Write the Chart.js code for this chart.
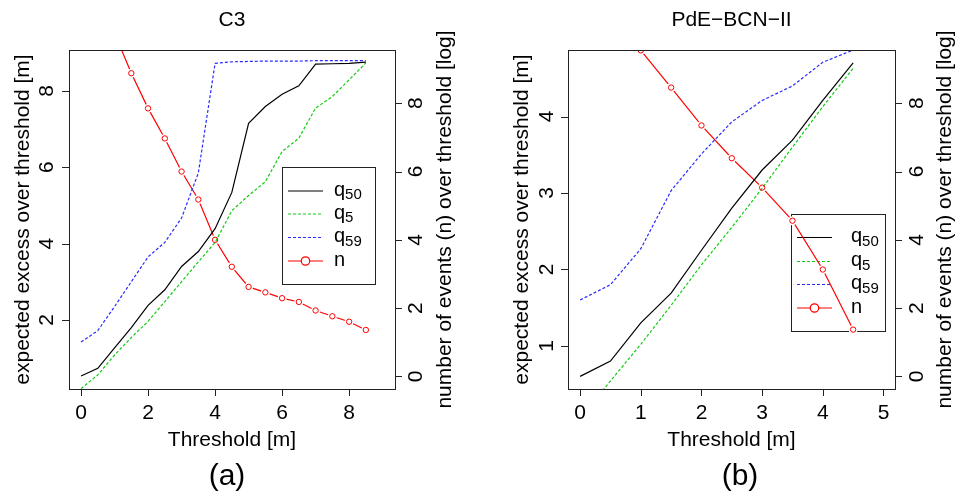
<!DOCTYPE html>
<html>
<head>
<meta charset="utf-8">
<script src="https://cdn.jsdelivr.net/npm/chart.js@4/dist/chart.umd.min.js"></script>
<style>
body { margin: 0; background: #fff; width: 955px; height: 495px; overflow: hidden; position: relative; }
canvas { position: absolute; top: 0; }
#chartA { left: 0; }
#chartB { left: 477px; }
</style>
</head>
<body>
<canvas id="chartA" width="477" height="495"></canvas>
<canvas id="chartB" width="478" height="495"></canvas>
<script>
// Panel (a) - C3
const thresholdsA = [0, 0.5, 1, 1.5, 2, 2.5, 3, 3.5, 4, 4.5, 5, 5.5, 6, 6.5, 7, 7.5, 8, 8.5];
const q50A = [0.53, 0.73, 1.27, 1.8, 2.38, 2.79, 3.4, 3.79, 4.39, 5.34, 7.15, 7.59, 7.91, 8.13, 8.7, 8.71, 8.72, 8.75];
const q5A  = [0.2, 0.56, 1.08, 1.54, 1.96, 2.48, 3.0, 3.52, 4.03, 4.86, 5.26, 5.62, 6.41, 6.76, 7.55, 7.85, 8.29, 8.73];
const q59A = [1.42, 1.72, 2.35, 3.0, 3.65, 4.03, 4.67, 5.85, 8.72, 8.76, 8.77, 8.78, 8.78, 8.78, 8.79, 8.79, 8.79, 8.79];
const nA   = [null, null, 10.05, 8.88, 7.85, 6.97, 6.0, 5.18, 4.0, 3.21, 2.62, 2.46, 2.29, 2.18, 1.93, 1.76, 1.6, 1.36];

// Panel (b) - PdE-BCN-II
const thresholdsB = [0, 0.5, 1, 1.5, 2, 2.5, 3, 3.5, 4, 4.5];
const q50B = [0.6, 0.8, 1.3, 1.69, 2.25, 2.8, 3.3, 3.69, 4.21, 4.7];
const q5B  = [0.06, 0.54, 1.02, 1.53, 2.06, 2.55, 3.06, 3.6, 4.13, 4.63];
const q59B = [1.6, 1.8, 2.27, 3.03, 3.51, 3.93, 4.21, 4.4, 4.71, 4.87];
const nB   = [null, null, 9.55, 8.46, 7.35, 6.39, 5.53, 4.56, 3.13, 1.37];

// axis ticks
const xTicksA = [0, 2, 4, 6, 8];
const yTicksA = [2, 4, 6, 8];
const xTicksB = [0, 1, 2, 3, 4, 5];
const yTicksB = [1, 2, 3, 4];
const nTicks = [0, 2, 4, 6, 8];

const FONT = '"Liberation Sans", Arial, Helvetica, sans-serif';
const GREEN = '#11cc11';
const BLUE = '#2a2aff';
const RED = '#ff0000';

const toPoints = (xs, ys) => xs.map((x, i) => ({ x: x, y: ys[i] }));

function vText(ctx, text, x, y) {
    ctx.save();
    ctx.translate(x, y);
    ctx.rotate(-Math.PI / 2);
    ctx.textAlign = 'center';
    ctx.textBaseline = 'middle';
    ctx.fillText(text, 0, 0);
    ctx.restore();
}

// R style box, axes, labels and legend
const rAxes = {
    id: 'rAxes',
    beforeDatasetsDraw(chart, args, o) {
        const ctx = chart.ctx;
        const lg = o.legend;
        ctx.save();
        ctx.fillStyle = '#fff';
        ctx.fillRect(lg.box[0], lg.box[1], lg.box[2] - lg.box[0], lg.box[3] - lg.box[1]);
        ctx.strokeStyle = '#222';
        ctx.lineWidth = 1;
        ctx.strokeRect(lg.box[0] + 0.5, lg.box[1] + 0.5, lg.box[2] - lg.box[0], lg.box[3] - lg.box[1]);
        lg.items.forEach((it, i) => {
            const y = lg.rows[i];
            ctx.strokeStyle = it.color;
            ctx.lineWidth = 1.2;
            ctx.setLineDash(it.dash);
            ctx.beginPath();
            ctx.moveTo(lg.line[0], y);
            ctx.lineTo(lg.line[1], y);
            ctx.stroke();
            ctx.setLineDash([]);
            if (it.point) {
                ctx.fillStyle = '#fff';
                ctx.beginPath();
                ctx.arc((lg.line[0] + lg.line[1]) / 2, y, 4.2, 0, Math.PI * 2);
                ctx.fill();
                ctx.stroke();
            }
            ctx.fillStyle = '#000';
            ctx.textAlign = 'left';
            ctx.textBaseline = 'middle';
            ctx.font = '20px ' + FONT;
            ctx.fillText(it.label, lg.textX, y - 1);
            if (it.sub) {
                const w = ctx.measureText(it.label).width;
                ctx.font = '15px ' + FONT;
                ctx.fillText(it.sub, lg.textX + w, y + 4);
            }
        });
        ctx.restore();
    },
    afterDraw(chart, args, o) {
        const ctx = chart.ctx;
        const a = chart.chartArea;
        const sx = chart.scales.x, sy = chart.scales.y, s2 = chart.scales.y2;
        ctx.save();
        ctx.strokeStyle = '#222';
        ctx.lineWidth = 1;
        ctx.strokeRect(Math.round(a.left) + 0.5, Math.round(a.top) + 0.5,
            Math.round(a.right - a.left), Math.round(a.bottom - a.top));
        ctx.fillStyle = '#000';
        ctx.font = '21px ' + FONT;
        ctx.beginPath();
        o.xTicks.forEach(v => {
            const px = Math.round(sx.getPixelForValue(v)) + 0.5;
            ctx.moveTo(px, a.bottom);
            ctx.lineTo(px, a.bottom + 7);
        });
        o.yTicks.forEach(v => {
            const py = Math.round(sy.getPixelForValue(v)) + 0.5;
            ctx.moveTo(a.left, py);
            ctx.lineTo(a.left - 7, py);
        });
        o.y2Ticks.forEach(v => {
            const py = Math.round(s2.getPixelForValue(v)) + 0.5;
            ctx.moveTo(a.right, py);
            ctx.lineTo(a.right + 7, py);
        });
        ctx.stroke();

        ctx.textAlign = 'center';
        ctx.textBaseline = 'middle';
        o.xTicks.forEach(v => ctx.fillText(String(v), sx.getPixelForValue(v), 413));
        o.yTicks.forEach(v => vText(ctx, String(v), o.yLabelX, sy.getPixelForValue(v)));
        o.y2Ticks.forEach(v => vText(ctx, String(v), o.y2LabelX, s2.getPixelForValue(v)));

        const midX = (a.left + a.right) / 2;
        const midY = (a.top + a.bottom) / 2;
        ctx.fillText('Threshold [m]', midX, 440);
        ctx.fillText(o.title, midX, 20);
        vText(ctx, 'expected excess over threshold [m]', o.yTitleX, midY);
        vText(ctx, 'number of events (n) over threshold [log]', o.y2TitleX, midY);
        ctx.font = '30px ' + FONT;
        ctx.fillText(o.tag, o.tagX, 477);
        ctx.restore();
    }
};

const legendItems = [
    { label: 'q', sub: '50', color: '#000', dash: [] },
    { label: 'q', sub: '5', color: GREEN, dash: [3, 2] },
    { label: 'q', sub: '59', color: BLUE, dash: [3, 2] },
    { label: 'n', color: RED, dash: [], point: true }
];

function makeDatasets(xs, q50, q5, q59, n) {
    const nPts = toPoints(xs, n);
    return [
        { data: toPoints(xs, q50), borderColor: '#000', borderWidth: 1.2, pointRadius: 0, order: 1 },
        { data: toPoints(xs, q5), borderColor: GREEN, borderWidth: 1.2, borderDash: [3, 2], pointRadius: 0, order: 2 },
        { data: toPoints(xs, q59), borderColor: BLUE, borderWidth: 1.2, borderDash: [3, 2], pointRadius: 0, order: 3 },
        { data: nPts, yAxisID: 'y2', showLine: false, pointRadius: 4.5, pointBorderWidth: 0,
          pointBackgroundColor: '#fff', pointBorderColor: '#fff', order: 4 },
        { data: nPts, yAxisID: 'y2', borderColor: RED, borderWidth: 1.2, pointRadius: 0, order: 5 },
        { data: nPts, yAxisID: 'y2', showLine: false, pointRadius: 2.7, pointBorderWidth: 1,
          pointBackgroundColor: 'rgba(0,0,0,0)', pointBorderColor: RED, order: 0 }
    ];
}

function makeChart(id, cfg) {
    return new Chart(document.getElementById(id), {
        type: 'line',
        data: { datasets: cfg.datasets },
        options: {
            responsive: false,
            animation: false,
            devicePixelRatio: 1,
            layout: { padding: cfg.padding },
            elements: { line: { tension: 0, fill: false } },
            scales: {
                x: { type: 'linear', display: false, bounds: 'data', min: cfg.xRange[0], max: cfg.xRange[1] },
                y: { type: 'linear', display: false, bounds: 'data', min: cfg.yRange[0], max: cfg.yRange[1] },
                y2: { type: 'linear', display: false, bounds: 'data', min: -0.37, max: 9.56 }
            },
            plugins: {
                legend: { display: false },
                tooltip: { enabled: false },
                rAxes: cfg.axes
            }
        },
        plugins: [rAxes]
    });
}

makeChart('chartA', {
    datasets: makeDatasets(thresholdsA, q50A, q5A, q59A, nA),
    padding: { left: 69, right: 82, top: 50, bottom: 106 },
    xRange: [-0.36, 9.37],
    yRange: [0.19, 9.07],
    axes: {
        title: 'C3', tag: '(a)', tagX: 227,
        xTicks: xTicksA, yTicks: yTicksA, y2Ticks: nTicks,
        yLabelX: 47, yTitleX: 23, y2LabelX: 416, y2TitleX: 445,
        legend: {
            box: [282, 167, 375, 284],
            rows: [191, 214, 237.5, 261],
            line: [288, 323],
            textX: 334,
            items: legendItems
        }
    }
});

makeChart('chartB', {
    datasets: makeDatasets(thresholdsB, q50B, q5B, q59B, nB),
    padding: { left: 91, right: 60, top: 50, bottom: 106 },
    xRange: [-0.2, 5.19],
    yRange: [0.435, 4.87],
    axes: {
        title: 'PdE\u2212BCN\u2212II', tag: '(b)', tagX: 263,
        xTicks: xTicksB, yTicks: yTicksB, y2Ticks: nTicks,
        yLabelX: 70, yTitleX: 45, y2LabelX: 440, y2TitleX: 468,
        legend: {
            box: [314, 214, 408, 331],
            rows: [237.5, 261.5, 284.5, 308],
            line: [320, 355],
            textX: 374,
            items: legendItems
        }
    }
});
</script>
</body>
</html>
